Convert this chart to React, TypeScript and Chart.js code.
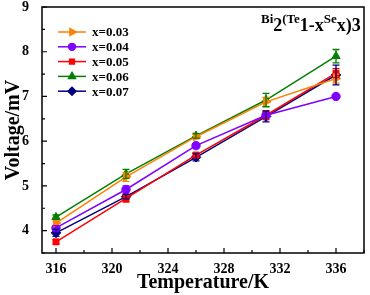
import React, { useEffect, useRef } from "react";
import { Chart, registerables } from "chart.js";
import { drawPoint } from "chart.js/helpers";

Chart.register(...registerables);

const temperatures = [316, 321, 326, 331, 336];
const labels = ["x=0.03", "x=0.04", "x=0.05", "x=0.06", "x=0.07"];
const v003 = [4.17, 5.2, 6.1, 6.88, 7.4];
const v004 = [4.06, 4.92, 5.9, 6.58, 7.0];
const v005 = [3.75, 4.72, 5.69, 6.58, 7.52];
const v006 = [4.3, 5.27, 6.12, 6.92, 7.9];
const v007 = [3.95, 4.76, 5.64, 6.55, 7.48];
const e003 = [0.05, 0.1, 0.05, 0.1, 0.1];
const e004 = [0.05, 0.08, 0.05, 0.05, 0.03];
const e005 = [0.05, 0.08, 0.05, 0.1, 0.1];
const e006 = [0.05, 0.1, 0.05, 0.15, 0.15];
const e007 = [0.08, 0.05, 0.08, 0.12, 0.22];
const xTicks = [316, 320, 324, 328, 332, 336];
const yTicks = [4, 5, 6, 7, 8, 9];

const colors = ["#FF8000", "#8000FF", "#FF0000", "#008000", "#000080"];
const styles = ["triangle", "circle", "rect", "triangle", "rectRot"];
const rotations = [90, 0, 0, 0, 0];
const radii = [4.8, 4.2, 4.2, 4.8, 4.8];
const values = [v003, v004, v005, v006, v007];
const errors = [e003, e004, e005, e006, e007];

const FONT = "'Liberation Serif', 'Times New Roman', serif";

const framePlugin = {
  id: "frame",
  afterDatasetsDraw(chart: any) {
    const { ctx, chartArea: a, scales } = chart;
    const xs = scales.x, ys = scales.y;
    ctx.save();
    // error bars
    chart.data.datasets.forEach((ds: any, i: number) => {
      ctx.strokeStyle = colors[i];
      ctx.lineWidth = 1.3;
      ds.data.forEach((p: any, j: number) => {
        const e = errors[i][j];
        const px = xs.getPixelForValue(p.x);
        const top = ys.getPixelForValue(p.y + e);
        const bot = ys.getPixelForValue(p.y - e);
        ctx.beginPath();
        ctx.moveTo(px, top); ctx.lineTo(px, bot);
        ctx.moveTo(px - 3.5, top); ctx.lineTo(px + 3.5, top);
        ctx.moveTo(px - 3.5, bot); ctx.lineTo(px + 3.5, bot);
        ctx.stroke();
      });
    });
    // frame
    ctx.strokeStyle = "#000";
    ctx.lineWidth = 1.5;
    ctx.strokeRect(a.left, a.top, a.right - a.left, a.bottom - a.top);
    ctx.lineWidth = 1.2;
    ctx.beginPath();
    for (let t = 316; t <= 338; t += 2) {
      const px = xs.getPixelForValue(t);
      const len = (t - 316) % 4 === 0 ? 5 : 3;
      ctx.moveTo(px, a.bottom); ctx.lineTo(px, a.bottom - len);
    }
    for (let v = 3.5; v <= 9.001; v += 0.5) {
      const py = ys.getPixelForValue(v);
      const len = Math.abs(v - Math.round(v)) < 0.01 ? 5 : 3;
      ctx.moveTo(a.left, py); ctx.lineTo(a.left + len, py);
    }
    ctx.stroke();
    // legend
    const lx = a.left + 16, ly = a.top + 25, gap = 14.8;
    labels.forEach((lab, i) => {
      const y = ly + i * gap;
      ctx.strokeStyle = colors[i];
      ctx.lineWidth = 1.5;
      ctx.beginPath();
      ctx.moveTo(lx, y); ctx.lineTo(lx + 28, y);
      ctx.stroke();
      ctx.fillStyle = colors[i];
      drawPoint(ctx, { pointStyle: styles[i], rotation: rotations[i], radius: radii[i] - 0.8, borderWidth: 1 } as any, lx + 14, y);
      ctx.fillStyle = "#000";
      ctx.font = `bold 13px ${FONT}`;
      ctx.textBaseline = "middle";
      ctx.textAlign = "left";
      ctx.fillText(lab, lx + 34, y + 1);
    });
    // title
    const segs: [string, number, number][] = [
      ["Bi", 13, 23], ["2", 18, 31], ["(Te", 13, 23], ["1-x", 18, 31],
      ["Se", 13, 23], ["x", 18, 31], [")3", 18, 31],
    ];
    let tx = 261;
    ctx.fillStyle = "#000";
    ctx.textBaseline = "alphabetic";
    ctx.textAlign = "left";
    segs.forEach(([s, size, base]) => {
      ctx.font = `bold ${size}px ${FONT}`;
      ctx.fillText(s, tx, base);
      tx += ctx.measureText(s).width;
    });
    ctx.restore();
  },
};

export default function App() {
  const ref = useRef<HTMLCanvasElement>(null);
  useEffect(() => {
    document.body.style.margin = "0";
    const chart = new Chart(ref.current!, {
      type: "line",
      data: {
        datasets: values.map((vals, i) => ({
          label: labels[i],
          data: vals.map((v, j) => ({ x: temperatures[j], y: v })),
          borderColor: colors[i],
          backgroundColor: colors[i],
          borderWidth: 1.5,
          pointStyle: styles[i] as any,
          rotation: rotations[i],
          pointRadius: radii[i],
          pointBorderWidth: 1,
          tension: 0,
        })),
      },
      options: {
        animation: false,
        responsive: false,
        layout: { padding: { top: 7, right: 6, left: 0, bottom: 0 } },
        plugins: { legend: { display: false }, tooltip: { enabled: false } },
        scales: {
          x: {
            type: "linear",
            min: 315,
            max: 338,
            grid: { display: false },
            border: { display: false },
            afterBuildTicks: (s: any) => { s.ticks = xTicks.map((v) => ({ value: v })); },
            afterFit: (s: any) => { s.height = 42; s.paddingLeft = 0; s.paddingRight = 0; },
            ticks: { color: "#000", font: { family: FONT, size: 14, weight: "bold" }, padding: 0, maxRotation: 0 },
            title: { display: true, text: "Temperature/K", color: "#000", font: { family: FONT, size: 20, weight: "bold" }, padding: { top: 0, bottom: 0 } },
          },
          y: {
            type: "linear",
            min: 3.5,
            max: 9,
            grid: { display: false },
            border: { display: false },
            afterBuildTicks: (s: any) => { s.ticks = yTicks.map((v) => ({ value: v })); },
            afterFit: (s: any) => { s.width = 42; s.paddingTop = 0; s.paddingBottom = 0; },
            ticks: { color: "#000", font: { family: FONT, size: 14, weight: "bold" }, padding: 5 },
            title: { display: true, text: "Voltage/mV", color: "#000", font: { family: FONT, size: 20, weight: "bold" }, padding: { top: 2, bottom: 0 } },
          },
        },
      },
      plugins: [framePlugin],
    } as any);
    return () => chart.destroy();
  }, []);
  return (
    <div style={{ position: "absolute", left: 0, top: 0, width: 370, height: 295, background: "#fff" }}>
      <canvas ref={ref} width={370} height={295} />
    </div>
  );
}
